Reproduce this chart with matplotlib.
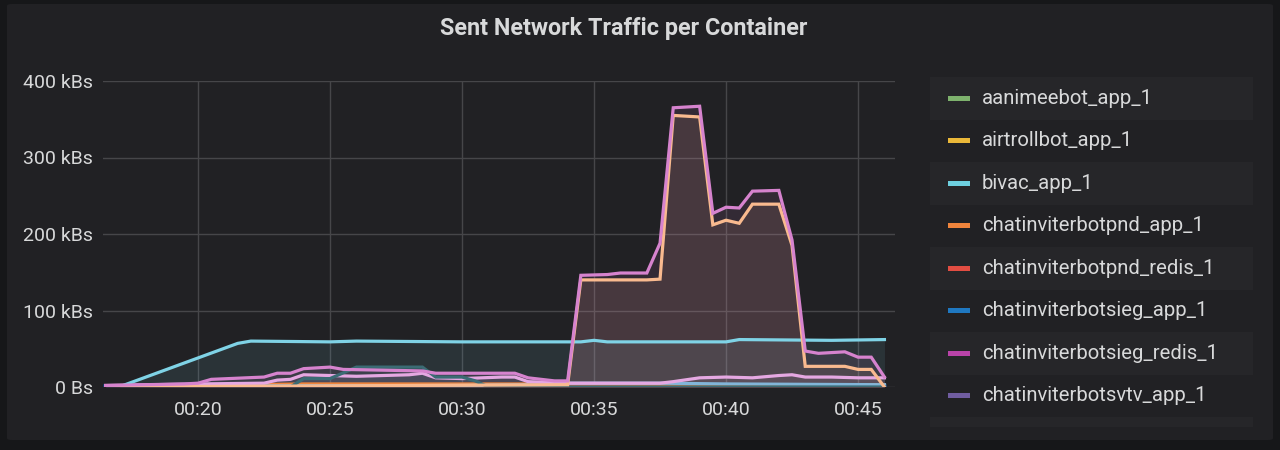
import matplotlib.pyplot as plt
from matplotlib.patches import Rectangle, FancyBboxPatch
from matplotlib.ticker import FuncFormatter, MultipleLocator

plt.rcParams['font.family'] = ['Roboto', 'DejaVu Sans']

# legend (first visible rows of the scrolled legend)
legend_names = ['aanimeebot_app_1', 'airtrollbot_app_1', 'bivac_app_1',
                'chatinviterbotpnd_app_1', 'chatinviterbotpnd_redis_1',
                'chatinviterbotsieg_app_1', 'chatinviterbotsieg_redis_1',
                'chatinviterbotsvtv_app_1']
legend_colors = ['#7EB26D', '#EAB839', '#6ED0E0', '#EF843C', '#E24D42',
                 '#1F78C1', '#BA43A9', '#705DA0']

# time in minutes after 00:00, values in kB/s
zero_t = [16.5, 46.0]
zero_v = [0, 0]

pnd_redis_t = [16.5, 21.0, 22.0, 34.0, 40.0, 46.0]
pnd_redis_v = [0, 1, 2, 2, 2, 1]

pnd_app_t = [16.5, 21.0, 22.0, 24.0, 30.0, 34.0, 40.0, 46.0]
pnd_app_v = [0, 1, 3, 4, 4, 4, 3, 3]

light_blue_t = [16.5, 30.0, 33.5, 34.0, 37.5, 40.0, 46.0]
light_blue_v = [1, 2, 3, 5, 5, 4, 3]

teal_t = [16.5, 23.5, 24.0, 25.0, 26.0, 28.5, 29.0, 30.0, 30.5, 31.0, 46.0]
teal_v = [0, 0, 11, 11, 26, 26, 13, 13, 8, 0, 0]

pink_low_t = [16.5, 20.0, 22.5, 23.0, 23.5, 24.0, 26.0, 28.0, 28.5, 29.0,
              30.0, 31.5, 32.0, 32.5, 34.0, 37.5, 38.0, 39.0, 40.0, 41.0,
              42.0, 42.5, 43.0, 44.0, 45.0, 46.0]
pink_low_v = [2, 4, 5, 9, 10, 16, 14, 16, 18, 12,
              11, 13, 13, 7, 5, 5, 7, 12, 13, 12,
              15, 16, 13, 13, 12, 12]

bivac_t = [16.5, 17.0, 21.5, 22.0, 25.0, 26.0, 30.0, 34.5, 35.0, 35.5,
           40.0, 40.5, 44.0, 46.0]
bivac_v = [0, 0, 57, 60, 59, 60, 59, 59, 61, 59,
           59, 62, 61, 62]

peach_t = [16.5, 34.0, 34.5, 37.0, 37.5, 38.0, 39.0, 39.5, 40.0, 40.5,
           41.0, 42.0, 42.5, 43.0, 44.5, 45.0, 45.5, 46.0]
peach_v = [0, 3, 140, 140, 141, 355, 353, 212, 218, 214,
           239, 239, 185, 27, 27, 23, 23, 0]

pink_t = [16.5, 19.5, 20.0, 20.5, 22.5, 23.0, 23.5, 24.0, 25.0, 25.5,
          28.5, 29.0, 32.0, 32.5, 33.0, 33.5, 34.0, 34.5, 35.5, 36.0,
          37.0, 37.5, 38.0, 39.0, 39.5, 40.0, 40.5, 41.0, 42.0, 42.5,
          43.0, 43.5, 44.5, 45.0, 45.5, 46.0]
pink_v = [2, 4, 5, 10, 13, 18, 18, 24, 26, 23,
          21, 18, 18, 12, 10, 8, 8, 146, 147, 149,
          149, 188, 365, 367, 227, 235, 234, 256, 257, 192,
          47, 44, 46, 39, 39, 13]

series = [
    (zero_t, zero_v, '#0A437C', 4.0),
    (pnd_redis_t, pnd_redis_v, '#E24D42', 2.3),
    (pnd_app_t, pnd_app_v, '#EF843C', 2.3),
    (light_blue_t, light_blue_v, '#82B5D8', 2.3),
    (pink_low_t, pink_low_v, '#E5A8E2', 2.3),
    (teal_t, teal_v, '#3B6B74', 2.3),
    (bivac_t, bivac_v, '#7FD3E6', 2.3),
    (peach_t, peach_v, '#F9BA8F', 2.3),
    (pink_t, pink_v, '#D683CE', 2.3),
]

W, H = 1280, 450
fig = plt.figure(figsize=(W / 100, H / 100), dpi=100, facecolor='#161719')

# panel background
fig.patches.append(FancyBboxPatch((7 / W, 1 - 440 / H), 1266 / W, 436 / H,
                                  boxstyle='round,pad=0,rounding_size=0.004',
                                  transform=fig.transFigure, facecolor='#212124',
                                  edgecolor='none', zorder=-10))

ax = fig.add_axes([103 / W, 1 - 387 / H, 792 / W, 306 / H])
ax.set_facecolor('none')

for t, v, c, lw in series:
    ax.fill_between(t, v, 0, color=c, alpha=0.1, lw=0)
    ax.plot(t, v, color=c, lw=lw, solid_joinstyle='miter')

ax.set_xlim(16.4, 46.4)
ax.set_ylim(0, 400)
ax.xaxis.set_major_locator(MultipleLocator(5))
ax.yaxis.set_major_locator(MultipleLocator(100))
ax.xaxis.set_major_formatter(FuncFormatter(lambda x, p: '00:%02d' % int(round(x))))
ax.yaxis.set_major_formatter(FuncFormatter(lambda y, p: '0 Bs' if y == 0 else '%d kBs' % y))
ax.grid(True, color='#464649', lw=1)
ax.set_axisbelow(True)
for s in ax.spines.values():
    s.set_visible(False)
ax.tick_params(length=0, colors='#d8d9da', labelsize=14)
ax.tick_params(axis='y', pad=7)
ax.tick_params(axis='x', pad=10)

fig.text(624 / W, 1 - 28 / H, 'Sent Network Traffic per Container', color='#d8d9da',
         fontsize=16.8, fontweight='bold', ha='center', va='center')

# legend box
row_h = 42.5
top = 77
for i in range(9):
    y0 = top + i * row_h
    h = row_h if i < 8 else 10
    if i % 2 == 0:
        fig.patches.append(Rectangle((930 / W, 1 - (y0 + h) / H), 323 / W, h / H,
                                     transform=fig.transFigure, facecolor='#262629',
                                     edgecolor='none', zorder=-5))
for i, (name, c) in enumerate(zip(legend_names, legend_colors)):
    yc = top + i * row_h + row_h / 2
    fig.patches.append(Rectangle((948 / W, 1 - (yc + 2.5) / H), 22 / W, 5 / H,
                                 transform=fig.transFigure, facecolor=c,
                                 edgecolor='none'))
    fig.text(982 / W, 1 - yc / H, name, color='#d8d9da', fontsize=14.6,
             ha='left', va='center')

fig.savefig('out.png', dpi=100, facecolor=fig.get_facecolor())
